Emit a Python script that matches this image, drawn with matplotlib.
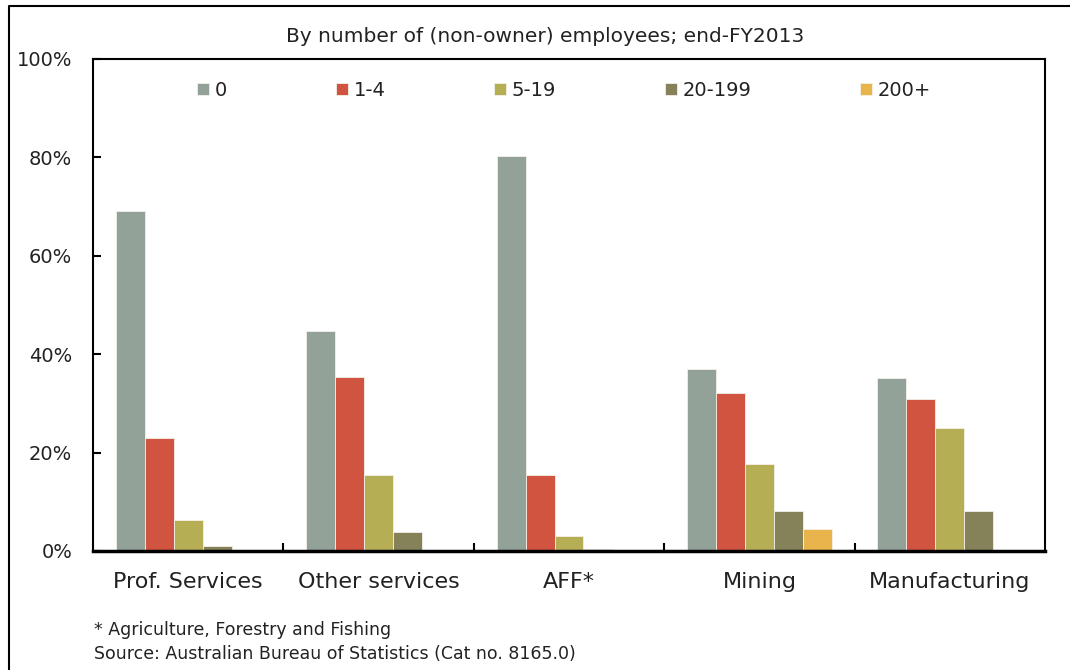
import numpy as np
import matplotlib
matplotlib.use('Agg')
import matplotlib.pyplot as plt
from matplotlib.lines import Line2D

plt.rcParams['font.family'] = ['DejaVu Sans']

categories = ['Prof. Services', 'Other services', 'AFF*', 'Mining', 'Manufacturing']
size_labels = ['0', '1-4', '5-19', '20-199', '200+']
# share of businesses (%) by employee size, per industry
v_0 = [69.2, 44.7, 80.3, 36.9, 35.1]
v_1_4 = [22.9, 35.3, 15.4, 32.2, 30.8]
v_5_19 = [6.3, 15.4, 3.1, 17.6, 24.9]
v_20_199 = [1.0, 3.9, 0.5, 8.1, 8.1]
v_200 = [0.1, 0.1, 0.05, 4.5, 0.3]
series = [v_0, v_1_4, v_5_19, v_20_199, v_200]
colors = ['#93a298', '#d0543f', '#b5ae54', '#858159', '#e8b44b']

fig = plt.figure(figsize=(10.7, 6.7), dpi=100)
ax = fig.add_axes([93/1070, 1-551/670, (1045-93)/1070, (551-59)/670])

x = np.arange(len(categories))
w = 0.152
for i, (vals, c, lab) in enumerate(zip(series, colors, size_labels)):
    ax.bar(x + (i - 2) * w, vals, w, color=c, label=lab,
           edgecolor='#f4f0e8', linewidth=0.6)

ax.set_xlim(-0.5, len(categories) - 0.5)
ax.set_ylim(0, 100)
ax.set_yticks([0, 20, 40, 60, 80, 100])
ax.set_yticklabels(['0%', '20%', '40%', '60%', '80%', '100%'])
ax.set_xticks(x)
ax.set_xticklabels(categories)
ax.set_xticks(np.arange(0.5, len(categories) - 0.5), minor=True)
ax.tick_params(axis='x', which='major', length=0, pad=15, labelsize=16, colors='#222222')
ax.tick_params(axis='x', which='minor', direction='in', length=6, width=1.5)
ax.tick_params(axis='y', direction='in', length=6, width=1.5, pad=15, labelsize=14, colors='black')
ax.tick_params(axis='y', labelcolor='#222222')
for s in ax.spines.values():
    s.set_linewidth(1.5)
ax.spines['bottom'].set_linewidth(2.5)

ax.legend(loc='center', bbox_to_anchor=(0.495, 0.936), ncol=5, frameon=False,
          fontsize=14, handlelength=0.6, handleheight=0.6, handletextpad=0.3,
          columnspacing=5.6, labelcolor='#222222')

fig.text(545/1070, 1-37/670, 'By number of (non-owner) employees; end-FY2013',
         ha='center', va='center', fontsize=14.5, color='#222222')
fig.text(94/1070, 1-630/670, '* Agriculture, Forestry and Fishing',
         ha='left', va='center', fontsize=12.5, color='#222222')
fig.text(94/1070, 1-654/670, 'Source: Australian Bureau of Statistics (Cat no. 8165.0)',
         ha='left', va='center', fontsize=12.5, color='#222222')

# outer chart border (left and top edges visible)
fig.add_artist(Line2D([9/1070, 9/1070, 1.0], [0.0, 1-6/670, 1-6/670],
                      transform=fig.transFigure, color='black', linewidth=1.5))

fig.savefig('out.png', dpi=100)
